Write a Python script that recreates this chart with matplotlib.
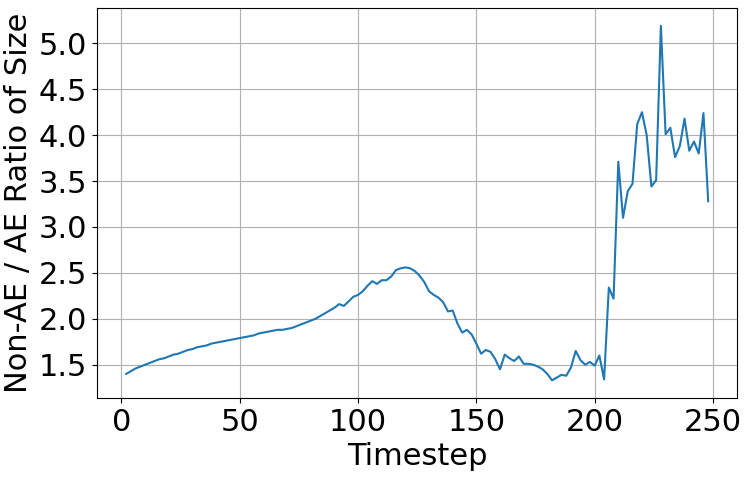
import matplotlib

matplotlib.use("Agg")
import matplotlib.pyplot as plt
import numpy as np
from matplotlib.ticker import MultipleLocator

# timesteps 2, 4, ..., 248
timesteps = np.arange(2, 250, 2)

size_ratio = [
    1.40, 1.43, 1.46, 1.48, 1.50, 1.52, 1.54, 1.56, 1.57, 1.59,
    1.61, 1.62, 1.64, 1.66, 1.67, 1.69, 1.70, 1.71, 1.73, 1.74,
    1.75, 1.76, 1.77, 1.78, 1.79, 1.80, 1.81, 1.82, 1.84, 1.85,
    1.86, 1.87, 1.88, 1.88, 1.89, 1.90, 1.92, 1.94, 1.96, 1.98,
    2.00, 2.03, 2.06, 2.09, 2.12, 2.16, 2.14, 2.19, 2.24, 2.26,
    2.30, 2.36, 2.41, 2.38, 2.42, 2.42, 2.46, 2.53, 2.55, 2.56,
    2.55, 2.52, 2.47, 2.40, 2.30, 2.26, 2.23, 2.18, 2.08, 2.09,
    1.95, 1.85, 1.88, 1.83, 1.73, 1.62, 1.66, 1.64, 1.56, 1.45,
    1.61, 1.57, 1.54, 1.59, 1.51, 1.51, 1.50, 1.48, 1.45, 1.40,
    1.33, 1.36, 1.39, 1.38, 1.47, 1.65, 1.55, 1.50, 1.53, 1.49,
    1.60, 1.34, 2.34, 2.22, 3.71, 3.10, 3.39, 3.47, 4.12, 4.25,
    4.00, 3.44, 3.51, 5.19, 4.01, 4.08, 3.76, 3.88, 4.18, 3.83,
    3.93, 3.80, 4.24, 3.28,
]

fig = plt.figure(figsize=(7.47, 4.79), dpi=100)
ax = fig.add_axes([0.130, 0.169, 0.857, 0.814])
ax.plot(timesteps, size_ratio, color="tab:blue", linewidth=1.5)
ax.yaxis.set_major_locator(MultipleLocator(0.5))
ax.set_xlabel("Timestep", fontsize=22)
ax.set_ylabel("Non-AE / AE Ratio of Size", fontsize=22)
ax.tick_params(labelsize=22)
ax.grid(True)
fig.savefig("out.png", dpi=100)
plt.close(fig)
